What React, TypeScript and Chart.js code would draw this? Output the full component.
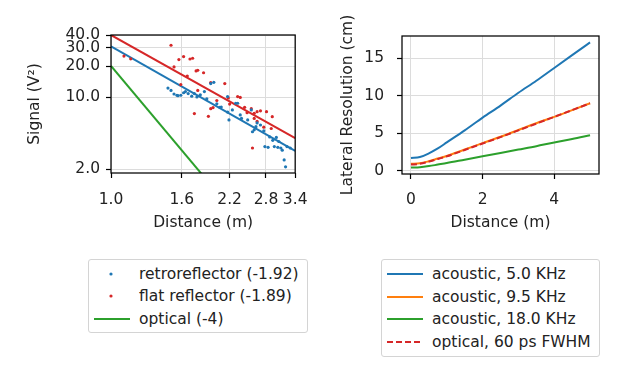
import React, { useEffect, useRef } from 'react';
import { Chart, registerables } from 'chart.js';

Chart.register(...registerables);

const FONT_FAMILY = '"DejaVu Sans", "Liberation Sans", sans-serif';
const FONT_SIZE = 15.5;
const TEXT = '#222222';
const GRID = '#dcdcdc';
const BLUE = '#1f77b4';
const ORANGE = '#ff7f0e';
const GREEN = '#2ca02c';
const RED = '#d62728';

// ---------- Left panel (log-log) ----------
const leftXTicks = [1.0, 1.6, 2.2, 2.8, 3.4];
const leftYTicks = [2, 10, 20, 30, 40];

const retroX = [1.46, 1.49, 1.52, 1.55, 1.56, 1.59, 1.62, 1.64, 1.67, 1.71, 1.74, 1.77, 1.81, 1.86, 1.89, 1.94, 1.98, 2.02, 2.06, 2.08, 2.17, 2.17, 2.19, 2.24, 2.29, 2.32, 2.36, 2.38, 2.48, 2.54, 2.56, 2.59, 2.62, 2.64, 2.70, 2.76, 2.78, 2.84, 2.87, 2.93, 2.96, 3.00, 3.03, 3.05, 3.09, 3.12, 3.16, 3.19, 3.22, 3.29];
const retroY = [12.2, 11.6, 10.7, 10.4, 10.3, 10.4, 11.0, 11.3, 10.8, 10.2, 10.8, 10.0, 10.5, 11.3, 9.6, 13.5, 13.9, 8.6, 7.95, 8.0, 7.15, 10.1, 6.0, 7.5, 8.7, 8.7, 6.7, 6.2, 6.0, 7.5, 4.6, 4.8, 5.15, 5.6, 5.35, 4.7, 3.3, 3.25, 4.1, 3.8, 3.3, 4.05, 3.25, 3.7, 3.2, 3.05, 2.45, 2.1, 3.3, 3.2];

const flatX = [1.09, 1.14, 1.49, 1.52, 1.57, 1.59, 1.62, 1.66, 1.69, 1.72, 1.74, 1.76, 1.78, 1.78, 1.85, 1.91, 1.94, 1.94, 1.97, 2.02, 2.13, 2.18, 2.20, 2.32, 2.36, 2.43, 2.47, 2.54, 2.56, 2.59, 2.59, 2.64, 2.64, 2.70, 2.76, 2.81, 2.90, 2.92];
const flatY = [25.0, 23.5, 31.8, 19.6, 23.1, 13.2, 24.7, 16.0, 23.4, 23.8, 6.9, 17.9, 18.2, 11.6, 17.2, 6.5, 7.7, 13.8, 7.9, 9.25, 13.5, 9.8, 8.55, 10.1, 9.9, 7.95, 7.05, 7.7, 3.2, 6.95, 6.2, 5.8, 7.2, 7.35, 5.1, 7.2, 4.95, 6.45];

const retroFitX = [1.0, 3.4];
const retroFitY = [31, 3.0];
const flatFitX = [1.0, 3.4];
const flatFitY = [40, 4.0];
const opticalX = [1.0, 1.85];
const opticalY = [20, 1.7];

// ---------- Right panel (linear) ----------
const rightXTicks = [0, 2, 4];
const rightYTicks = [0, 5, 10, 15];
const resX = [0, 0.25, 0.5, 0.75, 1, 1.5, 2, 2.5, 3, 3.5, 4, 4.5, 5];
const ac50 = [1.72, 1.85, 2.35, 3.0, 3.8, 5.4, 7.1, 8.7, 10.4, 12.0, 13.7, 15.4, 17.1];
const ac95 = [0.95, 1.02, 1.3, 1.65, 2.0, 2.85, 3.7, 4.55, 5.45, 6.35, 7.2, 8.1, 9.0];
const ac180 = [0.45, 0.5, 0.65, 0.85, 1.05, 1.5, 1.95, 2.4, 2.85, 3.3, 3.8, 4.25, 4.75];
const opt60 = [0.85, 0.95, 1.25, 1.6, 1.95, 2.8, 3.65, 4.5, 5.4, 6.3, 7.2, 8.1, 9.0];

const pts = (xs: number[], ys: number[]) => xs.map((x, i) => ({ x, y: ys[i] }));

const font = { family: FONT_FAMILY, size: FONT_SIZE };

const framePlugin = {
  id: 'frame',
  afterDraw(chart: any) {
    const { ctx, chartArea: a } = chart;
    ctx.save();
    ctx.strokeStyle = '#000';
    ctx.lineWidth = 1.25;
    ctx.strokeRect(a.left, a.top, a.right - a.left, a.bottom - a.top);
    ctx.restore();
  },
};

function axisBase(ticksArr: number[], fmt: (v: number) => string, pad: number) {
  return {
    afterBuildTicks: (s: any) => {
      s.ticks = ticksArr.map((v) => ({ value: v }));
    },
    ticks: {
      callback: (v: any) => fmt(Number(v)),
      autoSkip: false,
      maxRotation: 0,
      padding: pad,
      font,
      color: TEXT,
    },
    grid: { color: GRID, lineWidth: 1, tickColor: '#000', tickLength: 5, tickWidth: 1.2 },
    border: { display: false },
  };
}

const leftConfig: any = {
  type: 'scatter',
  data: {
    datasets: [
      { label: 'retroreflector (-1.92)', data: pts(retroX, retroY), pointRadius: 1.6, pointBorderWidth: 0, pointBackgroundColor: BLUE, showLine: false },
      { label: 'flat reflector (-1.89)', data: pts(flatX, flatY), pointRadius: 1.6, pointBorderWidth: 0, pointBackgroundColor: RED, showLine: false },
      { label: 'optical (-4)', data: pts(opticalX, opticalY), showLine: true, borderColor: GREEN, borderWidth: 2, pointRadius: 0 },
      { label: 'retro fit', data: pts(retroFitX, retroFitY), showLine: true, borderColor: BLUE, borderWidth: 2, pointRadius: 0 },
      { label: 'flat fit', data: pts(flatFitX, flatFitY), showLine: true, borderColor: RED, borderWidth: 2, pointRadius: 0 },
    ],
  },
  options: {
    animation: false,
    responsive: false,
    layout: { padding: { left: 26, right: 13, top: 35, bottom: 0 } },
    plugins: { legend: { display: false }, tooltip: { enabled: false } },
    scales: {
      x: {
        type: 'logarithmic',
        min: 1.0,
        max: 3.4,
        bounds: 'data',
        ...axisBase(leftXTicks, (v) => v.toFixed(1), 12.5),
        afterFit: (s: any) => { s.height = 77; },
        title: { display: true, text: 'Distance (m)', font, color: TEXT, padding: { top: 0, bottom: 17.7 } },
      },
      y: {
        type: 'logarithmic',
        min: 1.83,
        max: 40,
        bounds: 'data',
        ...axisBase(leftYTicks, (v) => v.toFixed(1), 6),
        afterFit: (s: any) => { s.width = 85; },
        title: { display: true, text: 'Signal (V²)', font, color: TEXT, padding: { top: 0, bottom: 0 } },
      },
    },
  },
  plugins: [framePlugin],
};

const rightConfig: any = {
  type: 'scatter',
  data: {
    datasets: [
      { label: 'optical, 60 ps FWHM', data: pts(resX, opt60), showLine: true, borderColor: RED, borderWidth: 2, borderDash: [6, 3], pointRadius: 0, order: 0, cubicInterpolationMode: 'monotone' },
      { label: 'acoustic, 5.0 KHz', data: pts(resX, ac50), showLine: true, borderColor: BLUE, borderWidth: 2, pointRadius: 0, order: 3, cubicInterpolationMode: 'monotone' },
      { label: 'acoustic, 9.5 KHz', data: pts(resX, ac95), showLine: true, borderColor: ORANGE, borderWidth: 2, pointRadius: 0, order: 2, cubicInterpolationMode: 'monotone' },
      { label: 'acoustic, 18.0 KHz', data: pts(resX, ac180), showLine: true, borderColor: GREEN, borderWidth: 2, pointRadius: 0, order: 1, cubicInterpolationMode: 'monotone' },
    ],
  },
  options: {
    animation: false,
    responsive: false,
    layout: { padding: { left: 19, right: 41, top: 36, bottom: 0 } },
    plugins: { legend: { display: false }, tooltip: { enabled: false } },
    scales: {
      x: {
        type: 'linear',
        min: -0.25,
        max: 5.25,
        bounds: 'data',
        ...axisBase(rightXTicks, (v) => String(v), 11.5),
        afterFit: (s: any) => { s.height = 76; },
        title: { display: true, text: 'Distance (m)', font, color: TEXT, padding: { top: 0, bottom: 17.7 } },
      },
      y: {
        type: 'linear',
        min: -0.4,
        max: 17.95,
        bounds: 'data',
        ...axisBase(rightYTicks, (v) => String(v), 13),
        afterFit: (s: any) => { s.width = 63; },
        title: { display: true, text: 'Lateral Resolution (cm)', font, color: TEXT, padding: { top: 0, bottom: 0 } },
      },
    },
  },
  plugins: [framePlugin],
};

function ChartBox({ config, left }: { config: any; left: number }) {
  const ref = useRef<HTMLCanvasElement | null>(null);
  useEffect(() => {
    const chart = new Chart(ref.current as HTMLCanvasElement, config);
    return () => chart.destroy();
  }, []);
  return (
    <canvas
      ref={ref}
      width={320}
      height={250}
      style={{ position: 'absolute', left, top: 0, width: 320, height: 250 }}
    />
  );
}

type LegendItem = { label: string; kind: 'dot' | 'line' | 'dash'; color: string; y: number };

const leftLegend: LegendItem[] = [
  { label: 'retroreflector (-1.92)', kind: 'dot', color: BLUE, y: 13.5 },
  { label: 'flat reflector (-1.89)', kind: 'dot', color: RED, y: 36 },
  { label: 'optical (-4)', kind: 'line', color: GREEN, y: 59 },
];
const rightLegend: LegendItem[] = [
  { label: 'acoustic, 5.0 KHz', kind: 'line', color: BLUE, y: 14 },
  { label: 'acoustic, 9.5 KHz', kind: 'line', color: ORANGE, y: 36.5 },
  { label: 'acoustic, 18.0 KHz', kind: 'line', color: GREEN, y: 59 },
  { label: 'optical, 60 ps FWHM', kind: 'dash', color: RED, y: 81.5 },
];

function Legend({ items, left, top, width, height }: { items: LegendItem[]; left: number; top: number; width: number; height: number }) {
  return (
    <div
      style={{
        position: 'absolute', left, top, width, height, boxSizing: 'border-box',
        border: '1px solid #d4d4d4', borderRadius: 3, background: '#fff',
      }}
    >
      {items.map((it) => (
        <div key={it.label}>
          <svg width={40} height={10} style={{ position: 'absolute', left: 3, top: it.y - 5 }}>
            {it.kind === 'dot' && <circle cx={19} cy={5} r={1.6} fill={it.color} />}
            {it.kind === 'line' && <line x1={2} y1={5} x2={38} y2={5} stroke={it.color} strokeWidth={2} />}
            {it.kind === 'dash' && <line x1={2} y1={5} x2={38} y2={5} stroke={it.color} strokeWidth={2} strokeDasharray="6,3" />}
          </svg>
          <div
            style={{
              position: 'absolute', left: 50, top: it.y, transform: 'translateY(-50%)',
              fontFamily: FONT_FAMILY, fontSize: FONT_SIZE, color: TEXT, whiteSpace: 'nowrap', lineHeight: '18px',
            }}
          >
            {it.label}
          </div>
        </div>
      ))}
    </div>
  );
}

export default function App() {
  return (
    <div style={{ position: 'absolute', left: 0, top: 0, width: 640, height: 373, background: '#fff', overflow: 'hidden' }}>
      <ChartBox config={leftConfig} left={0} />
      <ChartBox config={rightConfig} left={320} />
      <Legend items={leftLegend} left={88} top={259} width={220} height={74} />
      <Legend items={rightLegend} left={381} top={259} width={219} height={98} />
    </div>
  );
}
